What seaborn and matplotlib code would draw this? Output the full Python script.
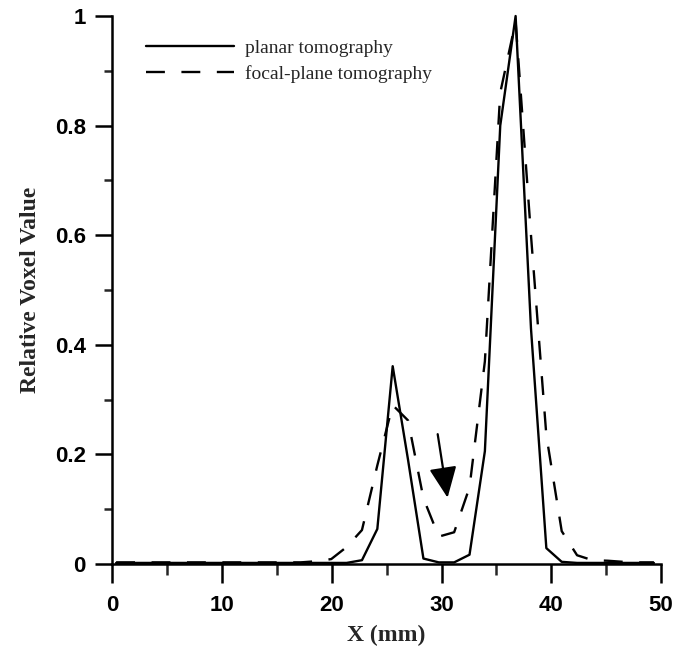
import matplotlib
matplotlib.use("Agg")
import matplotlib.pyplot as plt
from matplotlib.ticker import MultipleLocator
import pandas as pd
import seaborn as sns

# voxel centres along the profile (mm)
x_mm = [0.35, 1.75, 3.15, 4.55, 5.95, 7.35, 8.75, 10.15, 11.55, 12.95,
        14.35, 15.75, 17.15, 18.55, 19.95, 21.35, 22.75, 24.15, 25.55, 26.95,
        28.35, 29.75, 31.15, 32.55, 33.95, 35.35, 36.75, 38.15, 39.55, 40.95,
        42.35, 43.75, 45.15, 46.55, 47.95, 49.35]

planar = [0.002, 0.002, 0.002, 0.002, 0.002, 0.002, 0.002, 0.002, 0.002, 0.002,
          0.002, 0.002, 0.002, 0.002, 0.002, 0.002, 0.007, 0.064, 0.361, 0.19,
          0.010, 0.003, 0.003, 0.017, 0.206, 0.80, 1.0, 0.43, 0.029, 0.004,
          0.002, 0.002, 0.002, 0.002, 0.002, 0.002]

focal = [0.003, 0.003, 0.003, 0.003, 0.003, 0.003, 0.003, 0.003, 0.003, 0.003,
         0.003, 0.003, 0.003, 0.005, 0.009, 0.031, 0.062, 0.18, 0.29, 0.262,
         0.12, 0.05, 0.058, 0.14, 0.37, 0.86, 0.99, 0.60, 0.235, 0.06,
         0.016, 0.007, 0.006, 0.004, 0.003, 0.003]

labels = ["planar tomography", "focal-plane tomography"]
y_ticks = [0, 0.2, 0.4, 0.6, 0.8, 1.0]
y_ticklabels = ["0", "0.2", "0.4", "0.6", "0.8", "1"]
x_ticks = [0, 10, 20, 30, 40, 50]

df = pd.DataFrame({"x": x_mm, "planar": planar, "focal": focal})

sns.set_style("ticks")
plt.rcParams["font.family"] = ["Liberation Serif", "DejaVu Serif"]

fig = plt.figure(figsize=(6.88, 6.46), dpi=100)
ax = fig.add_axes([0.1632, 0.1269, 0.7976, 0.8483])

sns.lineplot(data=df, x="x", y="planar", ax=ax, color="black", lw=1.7,
             label=labels[0], clip_on=False)
sns.lineplot(data=df, x="x", y="focal", ax=ax, color="black", lw=1.7,
             label=labels[1], clip_on=False)
ax.lines[1].set_dashes([8, 7])

ax.set_xlim(0, 50)
ax.set_ylim(0, 1)
ax.set_xticks(x_ticks)
ax.set_yticks(y_ticks)
ax.set_yticklabels(y_ticklabels)
ax.xaxis.set_minor_locator(MultipleLocator(5))
ax.yaxis.set_minor_locator(MultipleLocator(0.1))

for s in ["top", "right"]:
    ax.spines[s].set_visible(False)
for s in ["left", "bottom"]:
    ax.spines[s].set_linewidth(1.8)
    ax.spines[s].set_color("black")

ax.tick_params(axis="x", which="major", length=13.5, width=1.8, pad=9, colors="black")
ax.tick_params(axis="x", which="minor", length=8, width=1.8)
ax.tick_params(axis="y", which="major", length=12, width=1.8, pad=7, colors="black")
ax.tick_params(axis="y", which="minor", length=6, width=1.8)
for t in ax.get_xticklabels() + ax.get_yticklabels():
    t.set_family(["Liberation Sans Narrow", "Liberation Sans"])
    t.set_fontweight("bold")
    t.set_fontsize(16)

ax.set_xlabel("X (mm)", fontsize=17, fontweight="bold", labelpad=6)
ax.set_ylabel("Relative Voxel Value", fontsize=17, fontweight="bold", labelpad=10)

# arrow marking the gap between the two peaks
ax.annotate("", xy=(30.55, 0.121), xytext=(29.65, 0.237),
            arrowprops=dict(arrowstyle="-|>,head_length=1.9,head_width=0.85",
                            mutation_scale=10, color="black", lw=1.6,
                            shrinkA=0, shrinkB=0))

leg = ax.legend(loc="upper left", bbox_to_anchor=(0.062, 0.958), frameon=False,
                fontsize=14, handlelength=4.5, handletextpad=0.6,
                labelspacing=0.45, borderpad=0, borderaxespad=0)
for h in leg.get_lines():
    h.set_linewidth(1.7)

fig.savefig("out.png", dpi=100)
